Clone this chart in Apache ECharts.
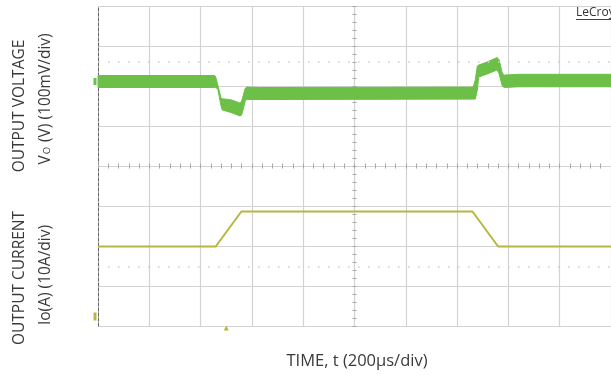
<!DOCTYPE html>
<html>
<head>
<meta charset="utf-8">
<script src="https://cdn.jsdelivr.net/npm/echarts@6/dist/echarts.min.js"></script>
<style>
  html, body { margin: 0; padding: 0; background: #fff; }
  #chart { width: 611px; height: 375px; }
</style>
</head>
<body>
<div id="chart"></div>
<script>
// Time base: 10 divisions at 200 µs/div
const timeMin = 0;
const timeMax = 2000;
const timeStep = 200;

// Output voltage trace envelope: deviation from nominal (mV) over time (µs)
const vTime  = [0, 455, 459, 467, 479, 484, 521, 553, 560, 574, 580, 630, 1463, 1471, 1479, 1484, 1518, 1556, 1564, 1576, 1584, 1642, 2000];
const vUpper = [15, 15, 11, -9, -40, -43, -46, -54, -49, -17, -14, -15, -14, 4, 39, 41, 49, 60, 54, 21, 16, 18, 18];
const vLower = [-15, -15, -15, -19, -59, -71, -78, -86, -84, -49, -45, -45, -44, -44, -21, 11, 19, 29, 19, -11, -15, -13, -13];

// Output current load step (A) over time (µs)
const iTime = [0, 459, 559, 1460, 1560, 2000];
const iAmps = [17.5, 17.5, 26.25, 26.25, 17.5, 17.5];

// Cursor levels and trigger position
const vCursor = 48.75;    // mV
const iCursor = 12.4;     // A
const triggerTime = 500;  // µs

// Channel scales (8 vertical divisions on screen)
const vAxisMin = -611.25, vAxisMax = 188.75;   // 100 mV/div
const iAxisMin = -2.375,  iAxisMax = 77.625;   // 10 A/div

const GREEN = '#6cbf47';
const YELLOW = '#b8b640';
const GRID = '#d2d2d2';
const TICK = '#a8a8a8';
const TEXT = '#3a3a3a';
const FONT = '"Open Sans", "DejaVu Sans", sans-serif';

const chart = echarts.init(document.getElementById('chart'), null, { renderer: 'canvas' });

const tickAxisCommon = {
  type: 'value',
  min: timeMin, max: timeMax, interval: timeStep,
  axisLine: { show: false, onZero: false },
  axisLabel: { show: false },
  splitLine: { show: false },
  axisTick: { show: true, length: 2.5, lineStyle: { color: TICK, width: 1 } },
  minorTick: { show: true, splitNumber: 5, length: 2.5, lineStyle: { color: TICK, width: 1 } }
};
const divTickCommon = {
  type: 'value',
  min: -4, max: 4, interval: 1,
  axisLine: { show: false, onZero: false },
  axisLabel: { show: false },
  splitLine: { show: false },
  axisTick: { show: true, length: 2.5, lineStyle: { color: TICK, width: 1 } },
  minorTick: { show: true, splitNumber: 5, length: 2.5, lineStyle: { color: TICK, width: 1 } }
};

// Voltage band: one polygon running along the upper envelope and back along the lower one
function renderVoltageBand(params, api) {
  if (params.dataIndex !== 0) return null;
  const pts = [];
  for (let k = 0; k < vTime.length; k++) pts.push(api.coord([vTime[k], vUpper[k]]));
  for (let k = vTime.length - 1; k >= 0; k--) pts.push(api.coord([vTime[k], vLower[k]]));
  return {
    type: 'polygon',
    shape: { points: pts },
    style: { fill: GREEN, stroke: GREEN, lineWidth: 1, lineJoin: 'round' }
  };
}

chart.setOption({
  animation: false,
  backgroundColor: '#ffffff',
  grid: { left: 98, top: 6, width: 514, height: 320 },
  xAxis: [
    {
      type: 'value', min: timeMin, max: timeMax, interval: timeStep,
      axisLine: { show: false }, axisTick: { show: false }, axisLabel: { show: false },
      splitLine: { show: true, lineStyle: { color: GRID, width: 1.2 } }
    },
    Object.assign({ position: 'bottom', offset: -160 }, tickAxisCommon),
    Object.assign({ position: 'top', offset: -160 }, tickAxisCommon)
  ],
  yAxis: [
    {
      type: 'value', min: -4, max: 4, interval: 1,
      position: 'left',
      axisLine: { show: true, onZero: false, lineStyle: { color: '#666', width: 1, type: [3, 2] } },
      axisTick: { show: false }, axisLabel: { show: false },
      splitLine: { show: true, lineStyle: { color: GRID, width: 1.2 } }
    },
    { type: 'value', min: vAxisMin, max: vAxisMax, show: false },
    { type: 'value', min: iAxisMin, max: iAxisMax, show: false },
    Object.assign({ position: 'left', offset: -257 }, divTickCommon),
    Object.assign({ position: 'right', offset: -257 }, divTickCommon)
  ],
  series: [
    {
      name: 'Vo',
      type: 'custom',
      xAxisIndex: 0, yAxisIndex: 1,
      renderItem: renderVoltageBand,
      data: vTime.map((t, k) => [t, vUpper[k], vLower[k]]),
      encode: { x: 0, y: [1, 2] },
      silent: true,
      z: 3
    },
    {
      name: 'Vo markers',
      type: 'line',
      xAxisIndex: 0, yAxisIndex: 1,
      data: [],
      markLine: {
        silent: true, symbol: 'none', label: { show: false },
        lineStyle: { color: '#cdcdcd', width: 1.5, type: [1.5, 8.5] },
        data: [{ yAxis: vCursor }]
      },
      markPoint: {
        silent: true, label: { show: false },
        symbol: 'rect', symbolSize: [3, 7], symbolOffset: [-3, 0],
        itemStyle: { color: GREEN },
        data: [{ coord: [timeMin, 0] }]
      },
      z: 2
    },
    {
      name: 'Io',
      type: 'line',
      xAxisIndex: 0, yAxisIndex: 2,
      showSymbol: false, symbol: 'none',
      lineStyle: { color: YELLOW, width: 2 },
      data: iTime.map((t, k) => [t, iAmps[k]]),
      markLine: {
        silent: true, symbol: 'none', label: { show: false },
        lineStyle: { color: '#cdcdcd', width: 1.5, type: [1.5, 8.5] },
        data: [{ yAxis: iCursor }]
      },
      markPoint: {
        silent: true, label: { show: false },
        itemStyle: { color: YELLOW },
        data: [
          { coord: [timeMin, 0], symbol: 'rect', symbolSize: [3, 8], symbolOffset: [-3, 0] },
          { coord: [triggerTime, iAxisMin], symbol: 'triangle', symbolSize: [5, 5], symbolOffset: [0, 2] }
        ]
      },
      z: 4
    }
  ],
  graphic: [
    {
      type: 'text', x: 20, y: 106, rotation: Math.PI / 2,
      style: { text: 'OUTPUT VOLTAGE', fontSize: 15.5, fontFamily: FONT, fill: TEXT, textAlign: 'center', textVerticalAlign: 'middle' }
    },
    {
      type: 'text', x: 46, y: 99, rotation: Math.PI / 2,
      style: {
        text: '{a|V}{b|O}{a| (V) (100mV/div)}',
        textAlign: 'center', textVerticalAlign: 'middle',
        rich: {
          a: { fontSize: 15.5, fontFamily: FONT, fill: TEXT },
          b: { fontSize: 9.5, fontFamily: FONT, fill: TEXT, padding: [3, 1, 0, 1] }
        }
      }
    },
    {
      type: 'text', x: 20, y: 278, rotation: Math.PI / 2,
      style: { text: 'OUTPUT CURRENT', fontSize: 15.5, fontFamily: FONT, fill: TEXT, textAlign: 'center', textVerticalAlign: 'middle' }
    },
    {
      type: 'text', x: 46, y: 275, rotation: Math.PI / 2,
      style: { text: 'Io(A) (10A/div)', fontSize: 15.5, fontFamily: FONT, fill: TEXT, textAlign: 'center', textVerticalAlign: 'middle' }
    },
    {
      type: 'text', x: 357, y: 361,
      style: { text: 'TIME, t (200µs/div)', fontSize: 16.5, fontFamily: FONT, fill: TEXT, textAlign: 'center', textVerticalAlign: 'middle' }
    },
    {
      type: 'text', x: 576, y: 13,
      style: { text: 'LeCroy', fontSize: 12, fontFamily: FONT, fill: '#333', textAlign: 'left', textVerticalAlign: 'middle' }
    },
    {
      type: 'line', shape: { x1: 576, y1: 19.5, x2: 611, y2: 19.5 },
      style: { stroke: '#444', lineWidth: 1 }
    }
  ]
});
</script>
</body>
</html>
